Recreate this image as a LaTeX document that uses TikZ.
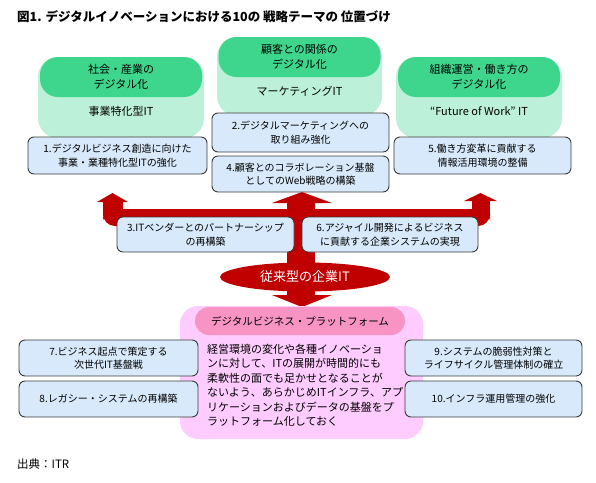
\documentclass[tikz,border=0pt]{standalone}
\usepackage{fontspec}
\setmainfont{Noto Sans CJK JP}
\usetikzlibrary{shapes.geometric}
\definecolor{dgreen}{HTML}{3DD68C}
\definecolor{lgreen}{HTML}{BDF0D8}
\definecolor{bluebox}{HTML}{D7E9FB}
\definecolor{boxline}{HTML}{3A3A3A}
\definecolor{pinkbg}{HTML}{FFCCFF}
\definecolor{pinkhd}{HTML}{F794C4}
\definecolor{darkred}{HTML}{C00000}
\begin{document}
\begin{tikzpicture}[x=1pt,y=-1pt,
  body/.style={fill=lgreen,rounded corners=20pt},
  hdr/.style={fill=dgreen,rounded corners=18pt,align=center,inner sep=0pt,
    minimum width=162pt,minimum height=40pt,font=\fontsize{11}{15.5}\selectfont},
  itlabel/.style={inner sep=0pt,font=\fontsize{11}{13}\selectfont},
  themebox/.style={draw=boxline,fill=bluebox,rounded corners=6pt,line width=0.9pt,
    align=center,inner sep=0pt,font=\fontsize{10}{13.5}\selectfont},
  redfill/.style={fill=darkred,draw=none}]
\useasboundingbox (0,0) rectangle (596,482);

% title
\node[anchor=west,inner sep=0pt,font=\fontsize{12.5}{14}\selectfont\bfseries] (title) at (17,17)
  {図1. デジタルイノベーションにおける10の 戦略テーマの 位置づけ};

% green theme blocks
\fill[body] (38,57) rectangle (204,138);
\node[hdr] (g1) at (121,77) {社会・産業の\\デジタル化};
\node[itlabel] (it1) at (121,111) {事業特化型IT};

\fill[body] (217,37) rectangle (382,116);
\node[hdr] (g2) at (299.5,57) {顧客との関係の\\デジタル化};
\node[itlabel] (it2) at (299.5,91) {マーケティングIT};

\fill[body] (396,57) rectangle (562,138);
\node[hdr] (g3) at (479,77) {組織運営・働き方の\\デジタル化};
\node[itlabel] (it3) at (479,111) {“Future of Work” IT};

% red arrows
\fill[redfill,rounded corners=12pt] (103,209) rectangle (490,226);
\fill[redfill] (103,201) rectangle (123,216);
\fill[redfill] (472,200) rectangle (490,216);
\fill[redfill] (97,202) -- (112.5,193) -- (128,202) -- cycle;
\fill[redfill] (464,201) -- (480.5,193) -- (497,201) -- cycle;
\fill[redfill] (287,200) rectangle (315,268);
\fill[redfill] (272,203) -- (302,192) -- (332,203) -- cycle;
\fill[redfill] (287,285) rectangle (315,296);
\fill[redfill] (272,295) -- (302,307) -- (332,295) -- cycle;
\node[ellipse,fill=darkred,minimum width=170pt,minimum height=29pt,inner sep=0pt,
  text=white,font=\fontsize{13}{14}\selectfont] (legacy) at (305,277) {従来型の企業IT};

% platform
\fill[pinkbg,rounded corners=18pt] (180,306) rectangle (423,439);
\node[fill=pinkhd,rounded corners=14pt,minimum width=210pt,minimum height=28pt,inner sep=0pt,
  font=\fontsize{10.5}{12}\selectfont] (plathd) at (300,321) {デジタルビジネス・プラットフォーム};
\node[anchor=north west,align=left,inner sep=0pt,font=\fontsize{11}{14.4}\selectfont] (platbody) at (207,344)
  {経営環境の変化や各種イノベーショ\\
   ンに対して、ITの展開が時間的にも\\
   柔軟性の面でも足かせとなることが\\
   ないよう、あらかじめITインフラ、アプ\\
   リケーションおよびデータの基盤をプ\\
   ラットフォーム化しておく};

% theme boxes
\node[themebox,minimum width=179pt,minimum height=37pt] (b1) at (117.5,155.5)
  {1.デジタルビジネス創造に向けた\\事業・業種特化型ITの強化};
\node[themebox,minimum width=177pt,minimum height=39pt] (b2) at (300.5,132.5)
  {2.デジタルマーケティングへの\\取り組み強化};
\node[themebox,minimum width=177pt,minimum height=36pt] (b4) at (300.5,174)
  {4.顧客とのコラボレーション基盤\\としてのWeb戦略の構築};
\node[themebox,minimum width=177pt,minimum height=37pt] (b5) at (482.5,155.5)
  {5.働き方変革に貢献する\\情報活用環境の整備};
\node[themebox,minimum width=177pt,minimum height=35pt] (b3) at (205.5,234.5)
  {3.ITベンダーとのパートナーシップ\\の再構築};
\node[themebox,minimum width=176pt,minimum height=35pt] (b6) at (390,234.5)
  {6.アジャイル開発によるビジネス\\に貢献する企業システムの実現};
\node[themebox,minimum width=179pt,minimum height=36pt] (b7) at (108.5,358)
  {7.ビジネス起点で策定する\\次世代IT基盤戦};
\node[themebox,minimum width=179pt,minimum height=36pt] (b8) at (108.5,399)
  {8.レガシー・システムの再構築};
\node[themebox,minimum width=177pt,minimum height=36pt] (b9) at (493.5,358)
  {9.システムの脆弱性対策と\\ライフサイクル管理体制の確立};
\node[themebox,minimum width=177pt,minimum height=36pt] (b10) at (493.5,399)
  {10.インフラ運用管理の強化};

% source
\node[anchor=west,inner sep=0pt,font=\fontsize{11.5}{13}\selectfont] (src) at (17,464) {出典：ITR};
\end{tikzpicture}
\end{document}
